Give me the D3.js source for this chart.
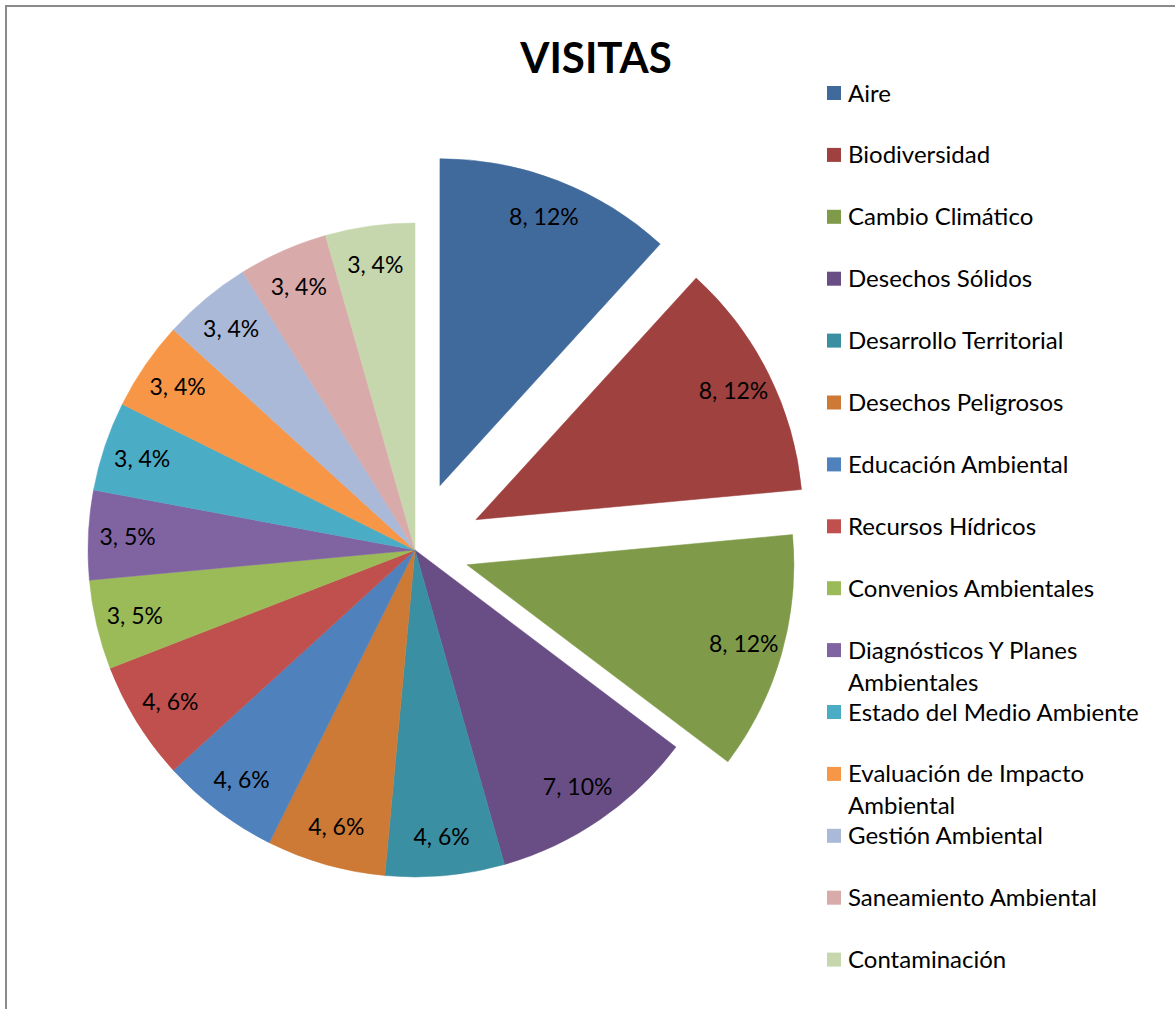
<!DOCTYPE html>
<html>
<head>
<meta charset="utf-8">
<script src="https://cdn.jsdelivr.net/npm/d3@7"></script>
<style>
  body { margin: 0; background: #fff; }
  svg { display: block; }
</style>
</head>
<body>
<script>
// data
var categories = ["Aire", "Biodiversidad", "Cambio Climático", "Desechos Sólidos",
    "Desarrollo Territorial", "Desechos Peligrosos", "Educación Ambiental",
    "Recursos Hídricos", "Convenios Ambientales", "Diagnósticos Y Planes Ambientales",
    "Estado del Medio Ambiente", "Evaluación de Impacto Ambiental", "Gestión Ambiental",
    "Saneamiento Ambiental", "Contaminación"];
var values = [8, 8, 8, 7, 4, 4, 4, 4, 3, 3, 3, 3, 3, 3, 3];
var percentLabels = [12, 12, 12, 10, 6, 6, 6, 6, 5, 5, 4, 4, 4, 4, 4];
var colors = ["#416A9C", "#9E413F", "#7F9A48", "#694E86", "#3B8FA2", "#CC7A36",
    "#4F81BD", "#C0504D", "#9BBB59", "#8064A2", "#4BACC6", "#F79646",
    "#AAB9D7", "#D9AAAA", "#C7D7AD"];

// how far the pulled-out slices sit from the centre (px)
var explodeBy = {"Aire": 69, "Biodiversidad": 68, "Cambio Climático": 54};

var width = 1175, height = 1009;
var cx = 415, cy = 550, radius = 327;
var font = "Lato, 'Open Sans', sans-serif";

var svg = d3.select("body").append("svg")
    .attr("width", width)
    .attr("height", height);

// chart frame (only left and top edges visible in the crop)
svg.append("path")
    .attr("d", "M6," + height + "V6H" + width)
    .attr("fill", "none")
    .attr("stroke", "#8a8a8a")
    .attr("stroke-width", 2);

svg.append("text")
    .attr("x", 596)
    .attr("y", 73)
    .attr("text-anchor", "middle")
    .attr("font-family", font)
    .attr("font-weight", "bold")
    .attr("font-size", "42px")
    .attr("fill", "#000")
    .text("VISITAS");

var color = d3.scaleOrdinal().domain(categories).range(colors);

var pie = d3.pie().sort(null).value(function(d) { return d.value; });
var rows = categories.map(function(c, i) {
    return {name: c, value: values[i], pct: percentLabels[i]};
});
var arcs = pie(rows);

var arc = d3.arc().innerRadius(0).outerRadius(radius);
var labelArc = d3.arc().innerRadius(radius * 0.88).outerRadius(radius * 0.88);

function offset(d) {
    var e = explodeBy[d.data.name] || 0;
    var a = (d.startAngle + d.endAngle) / 2;
    return [Math.sin(a) * e, -Math.cos(a) * e];
}

var pieG = svg.append("g")
    .attr("transform", "translate(" + cx + "," + cy + ")");

var slice = pieG.selectAll("g.slice")
    .data(arcs)
    .enter()
    .append("g")
    .attr("class", "slice")
    .attr("transform", function(d) { return "translate(" + offset(d) + ")"; });

slice.append("path")
    .attr("d", arc)
    .attr("fill", function(d) { return color(d.data.name); })
    .attr("stroke", function(d) { return color(d.data.name); })
    .attr("stroke-width", 0.5);

slice.append("text")
    .attr("transform", function(d) { return "translate(" + labelArc.centroid(d) + ")"; })
    .attr("dy", "0.35em")
    .attr("text-anchor", "middle")
    .attr("font-family", font)
    .attr("font-size", "23px")
    .attr("fill", "#000")
    .text(function(d) { return d.data.value + ", " + d.data.pct + "%"; });

// legend
var legendX = 827, legendTop = 94, legendStep = 61.9, lineH = 32, maxW = 318;

var legend = svg.append("g");
var item = legend.selectAll("g")
    .data(categories)
    .enter()
    .append("g")
    .attr("transform", function(d, i) {
        return "translate(" + legendX + "," + (legendTop + i * legendStep) + ")";
    });

item.append("rect")
    .attr("x", 0)
    .attr("y", -8)
    .attr("width", 14)
    .attr("height", 14)
    .attr("fill", function(d) { return color(d); });

item.append("text")
    .attr("x", 21)
    .attr("y", 7.5)
    .attr("font-family", font)
    .attr("font-size", "24px")
    .attr("fill", "#000")
    .each(function(d) {
        var t = d3.select(this);
        var words = d.split(" ");
        var line = [];
        var tspan = t.append("tspan").attr("x", 21).attr("dy", 0);
        words.forEach(function(w) {
            line.push(w);
            tspan.text(line.join(" "));
            if (tspan.node().getComputedTextLength() > maxW && line.length > 1) {
                line.pop();
                tspan.text(line.join(" "));
                line = [w];
                tspan = t.append("tspan").attr("x", 21).attr("dy", lineH).text(w);
            }
        });
    });
</script>
</body>
</html>
